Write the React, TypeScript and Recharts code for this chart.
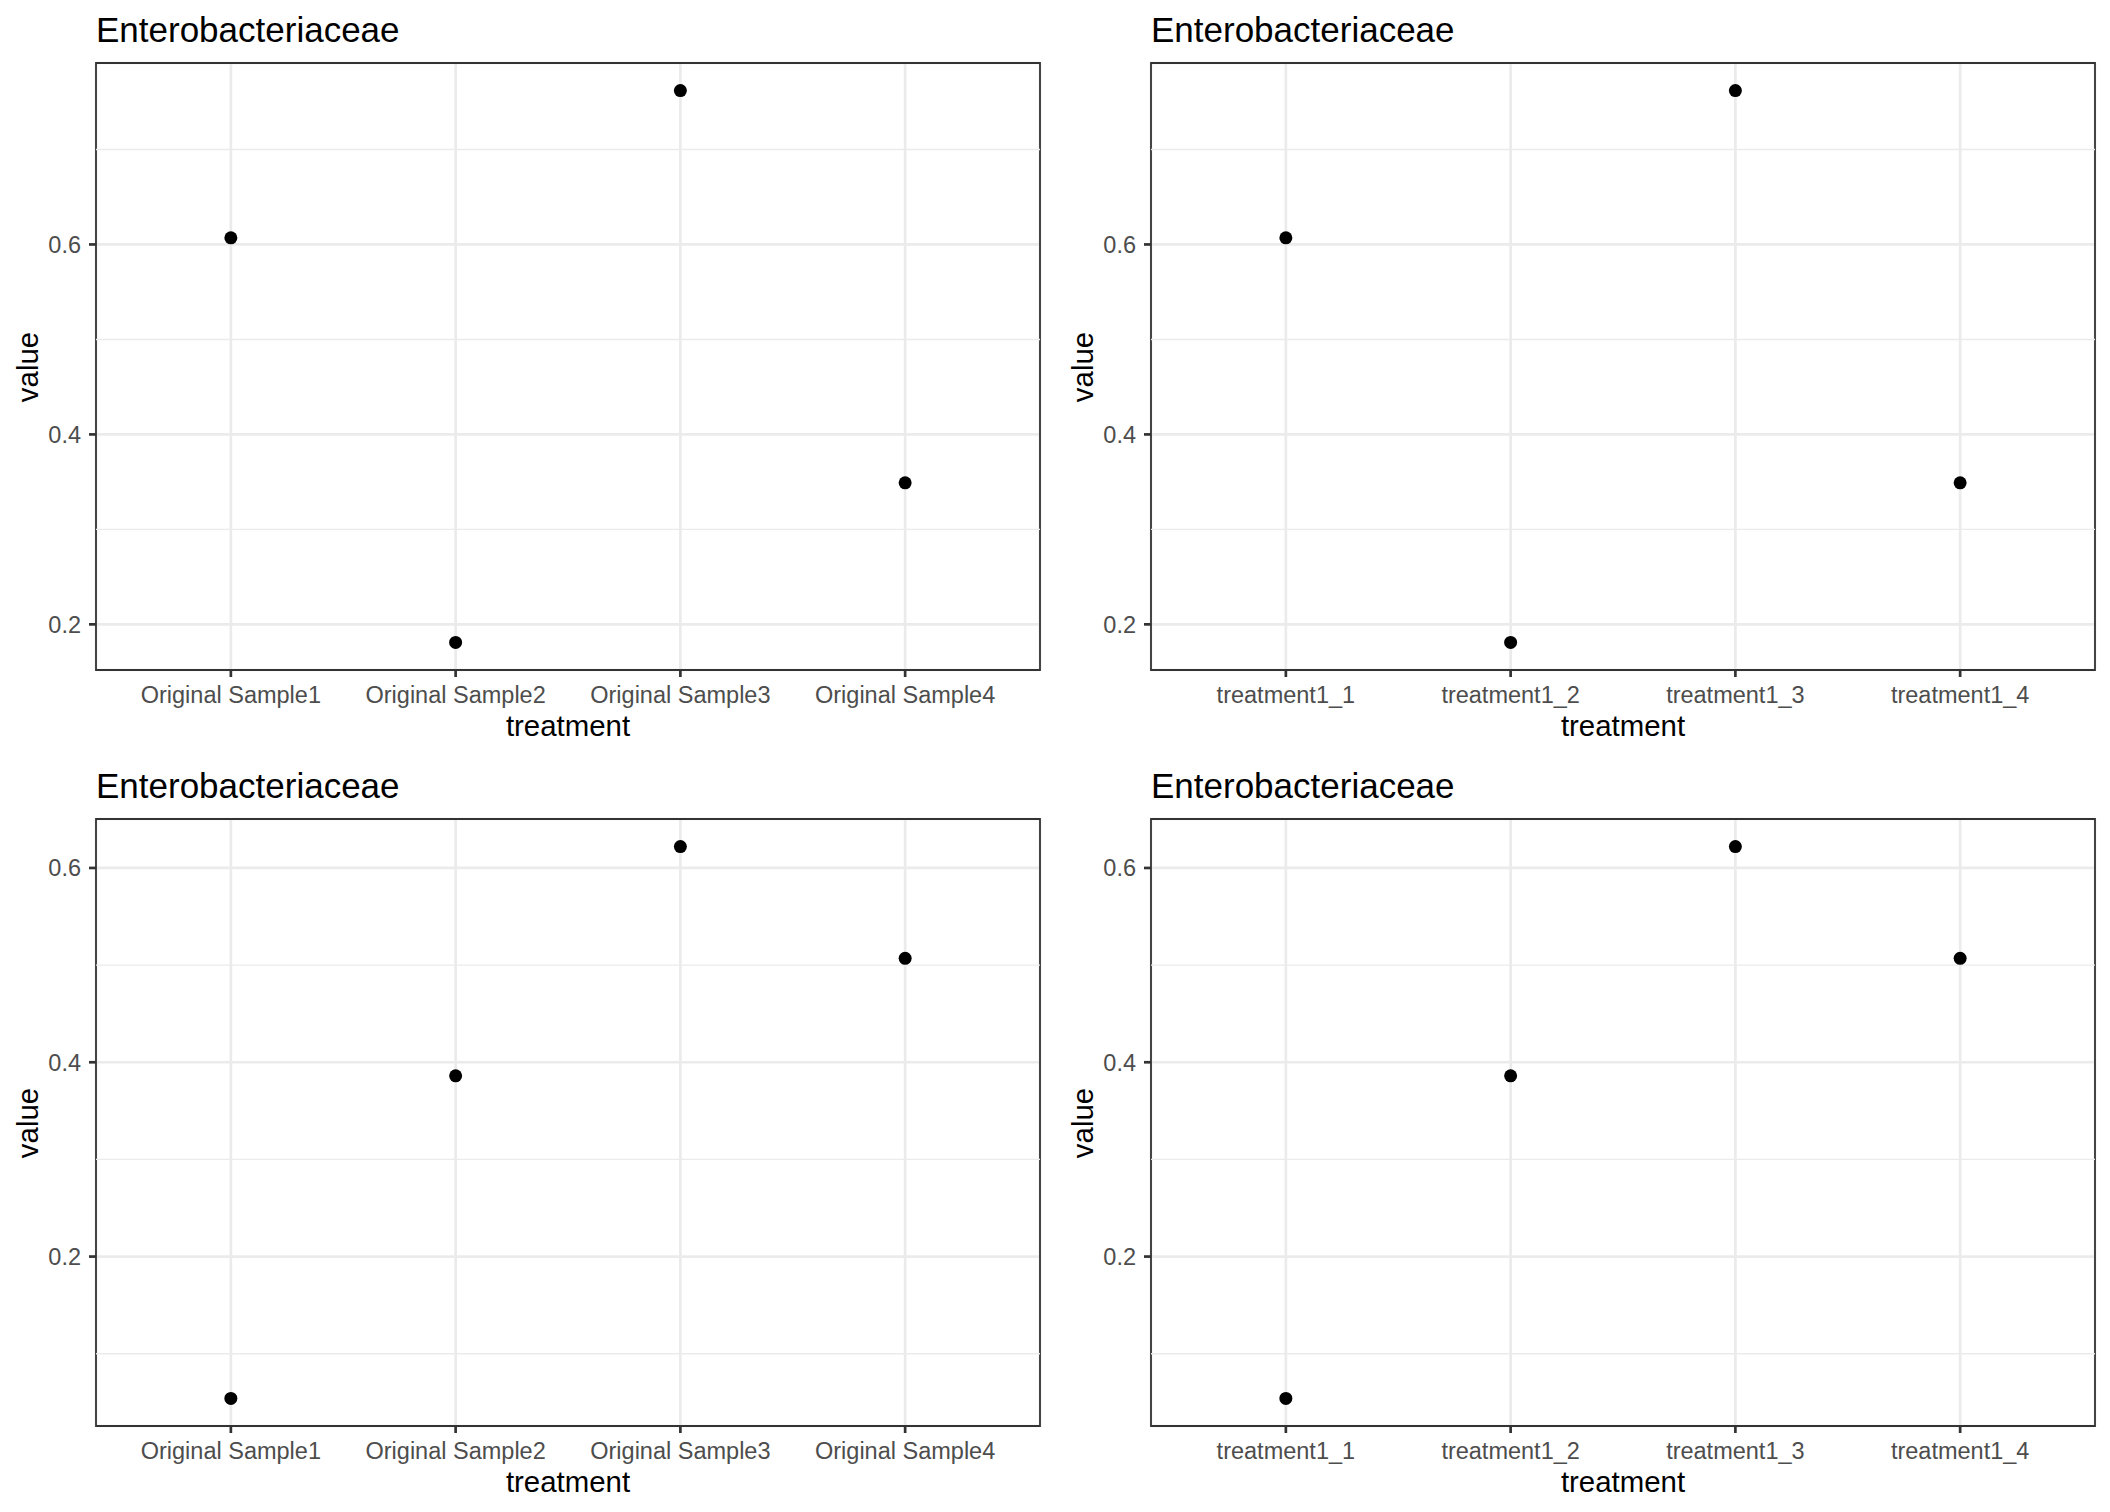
import React from "react";
import {
  ScatterChart,
  Scatter,
  XAxis,
  YAxis,
  CartesianGrid,
  ReferenceLine,
  ReferenceArea,
} from "recharts";

// categories on the x axis
const originalSamples = [
  "Original Sample1",
  "Original Sample2",
  "Original Sample3",
  "Original Sample4",
];
const treatmentGroups = ["treatment1_1", "treatment1_2", "treatment1_3", "treatment1_4"];

// Enterobacteriaceae abundance, one value per sample
const firstRowValues = [0.607, 0.181, 0.762, 0.349];
const secondRowValues = [0.054, 0.386, 0.622, 0.507];

// axis breaks
const yTicks = [0.2, 0.4, 0.6];
const firstRowMinorBreaks = [0.3, 0.5, 0.7];
const secondRowMinorBreaks = [0.1, 0.3, 0.5];

const FONT = '"Liberation Sans", Arial, Helvetica, sans-serif';
const CELL_W = 1055;
const CELL_H = 756;
const PLOT_LEFT = 96;
const PLOT_TOP = 63;
const PLOT_RIGHT = 15;
const X_AXIS_H = 86;

// ggplot-style 5% expansion of the data range
function expandRange(vals: number[]): [number, number] {
  const lo = Math.min(...vals);
  const hi = Math.max(...vals);
  const pad = (hi - lo) * 0.05;
  return [lo - pad, hi + pad];
}

interface PanelProps {
  title: string;
  categories: string[];
  values: number[];
  minorBreaks: number[];
  col: number;
  row: number;
}

function Panel({ title, categories, values, minorBreaks, col, row }: PanelProps) {
  const data = categories.map((name, i) => ({ x: i + 1, y: values[i], name }));
  const [lo, hi] = expandRange(values);
  const plotW = CELL_W - PLOT_LEFT - PLOT_RIGHT;
  const plotH = CELL_H - PLOT_TOP - X_AXIS_H;

  return (
    <div
      style={{
        position: "absolute",
        left: col * CELL_W,
        top: row * CELL_H,
        width: CELL_W,
        height: CELL_H,
        fontFamily: FONT,
      }}
    >
      <div
        style={{
          position: "absolute",
          left: PLOT_LEFT,
          top: 12,
          fontSize: 35,
          lineHeight: "35px",
          color: "#000",
          whiteSpace: "nowrap",
        }}
      >
        {title}
      </div>

      <ScatterChart
        width={CELL_W}
        height={CELL_H}
        margin={{ top: PLOT_TOP, right: PLOT_RIGHT, bottom: 0, left: 0 }}
      >
        <CartesianGrid stroke="#EBEBEB" strokeWidth={2.7} />
        {minorBreaks.map((v) => (
          <ReferenceLine key={v} y={v} stroke="#EBEBEB" strokeWidth={1.4} />
        ))}
        <XAxis
          type="number"
          dataKey="x"
          domain={[0.4, 4.6]}
          ticks={[1, 2, 3, 4]}
          tickFormatter={(v: number) => categories[v - 1]}
          height={X_AXIS_H}
          axisLine={false}
          tickSize={7}
          tickMargin={9}
          tickLine={{ stroke: "#333333", strokeWidth: 2.7 }}
          tick={{ fill: "#4D4D4D", fontSize: 23.5, fontFamily: FONT }}
          interval={0}
          allowDataOverflow
        />
        <YAxis
          type="number"
          dataKey="y"
          domain={[lo, hi]}
          ticks={yTicks}
          tickFormatter={(v: number) => v.toFixed(1)}
          width={PLOT_LEFT}
          axisLine={false}
          tickSize={7}
          tickMargin={8}
          tickLine={{ stroke: "#333333", strokeWidth: 2.7 }}
          tick={{ fill: "#4D4D4D", fontSize: 23.5, fontFamily: FONT }}
          allowDataOverflow
        />
        <ReferenceArea
          x1={0.4}
          x2={4.6}
          y1={lo}
          y2={hi}
          fill="none"
          stroke="#333333"
          strokeWidth={1.8}
          ifOverflow="visible"
        />
        <Scatter
          data={data}
          isAnimationActive={false}
          shape={(p: any) => <circle cx={p.cx} cy={p.cy} r={6.5} fill="#000" />}
        />
      </ScatterChart>

      {/* axis titles */}
      <div
        style={{
          position: "absolute",
          left: PLOT_LEFT,
          width: plotW,
          top: 711,
          textAlign: "center",
          fontSize: 29.4,
          lineHeight: "29.4px",
          color: "#000",
        }}
      >
        treatment
      </div>
      <div
        style={{
          position: "absolute",
          left: 28,
          top: PLOT_TOP + plotH / 2,
          transform: "translate(-50%, -50%) rotate(-90deg)",
          fontSize: 29.4,
          lineHeight: "29.4px",
          color: "#000",
          whiteSpace: "nowrap",
        }}
      >
        value
      </div>
    </div>
  );
}

export default function App() {
  return (
    <div
      style={{
        position: "absolute",
        left: 0,
        top: 0,
        width: 2110,
        height: 1512,
        background: "#fff",
      }}
    >
      <Panel
        title="Enterobacteriaceae"
        categories={originalSamples}
        values={firstRowValues}
        minorBreaks={firstRowMinorBreaks}
        col={0}
        row={0}
      />
      <Panel
        title="Enterobacteriaceae"
        categories={treatmentGroups}
        values={firstRowValues}
        minorBreaks={firstRowMinorBreaks}
        col={1}
        row={0}
      />
      <Panel
        title="Enterobacteriaceae"
        categories={originalSamples}
        values={secondRowValues}
        minorBreaks={secondRowMinorBreaks}
        col={0}
        row={1}
      />
      <Panel
        title="Enterobacteriaceae"
        categories={treatmentGroups}
        values={secondRowValues}
        minorBreaks={secondRowMinorBreaks}
        col={1}
        row={1}
      />
    </div>
  );
}
